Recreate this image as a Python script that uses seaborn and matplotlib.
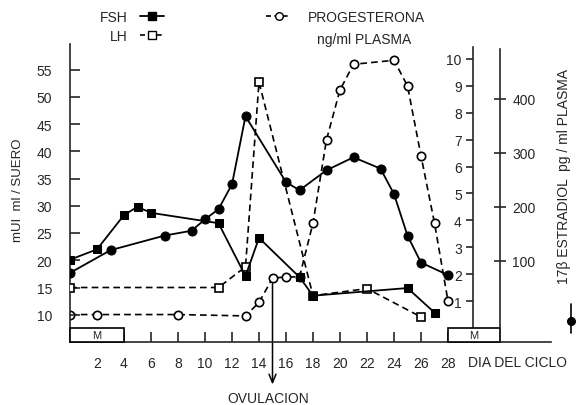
import matplotlib
matplotlib.use('Agg')
import matplotlib.pyplot as plt
import seaborn as sns
from matplotlib.lines import Line2D
from matplotlib.patches import Rectangle

# Datos (dia del ciclo)
# FSH  (mUI/ml suero)
fsh_dia = [0, 2, 4, 5, 6, 11, 13, 14, 17, 18, 25, 27]
fsh_val = [20.1, 22.0, 28.3, 29.8, 28.7, 26.8, 17.1, 24.1, 16.9, 13.5, 14.9, 10.4]

# LH  (mUI/ml suero)
lh_dia = [0, 11, 13, 14, 18, 22, 26]
lh_val = [15.0, 15.0, 18.8, 52.7, 13.5, 14.8, 9.6]

# Progesterona (ng/ml plasma)
prog_dia = [0, 2, 8, 13, 14, 15, 16, 17, 18, 19, 20, 21, 24, 25, 26, 27, 28]
prog_val = [0.5, 0.5, 0.5, 0.45, 0.95, 1.85, 1.9, 1.9, 3.9, 7.0, 8.85, 9.8, 9.95, 9.0, 6.4, 3.9, 1.0]

# 17-beta estradiol (pg/ml plasma)
e2_dia = [0, 3, 7, 9, 10, 11, 12, 13, 16, 17, 19, 21, 23, 24, 25, 26, 28]
e2_val = [78, 120, 147, 156, 177, 196, 242, 368, 246, 231, 268, 292, 271, 224, 147, 97, 74]

dia_ticks = list(range(2, 29, 2))
mui_ticks = list(range(10, 56, 5))
prog_ticks = list(range(1, 11))
e2_ticks = [100, 200, 300, 400]
menstruacion = [(0, 4), (28, 31.85)]
dia_ovulacion = 15

sns.set_style('ticks')
plt.rcParams['font.family'] = ['Liberation Sans', 'DejaVu Sans']
plt.rcParams['axes.linewidth'] = 1.2

fig = plt.figure(figsize=(5.76, 4.06), dpi=100)
ax = fig.add_axes([70 / 576, 63 / 406, 481 / 576, 299.75 / 406])
ax_p = ax.twinx()
ax_e = ax.twinx()
ax_p.set_zorder(ax.get_zorder() - 1)
ax.patch.set_visible(False)

# eje principal: mUI/ml
ax.set_xlim(0, 481 / 13.5)
ax.set_ylim(5, 60)
ax.spines['top'].set_visible(False)
ax.spines['right'].set_visible(False)
ax.spines['left'].set_bounds(5, 59.7)
ax.set_xticks(dia_ticks)
ax.set_yticks(mui_ticks)
ax.tick_params(axis='both', direction='in', length=7, width=1.2, labelsize=10)
ax.tick_params(axis='x', pad=10)
ax.tick_params(axis='y', pad=13)

# eje progesterona
for s in ['top', 'right', 'bottom']:
    ax_p.spines[s].set_visible(False)
ax_p.spines['left'].set_visible(True)
ax_p.spines['left'].set_position(('data', 29.85))
ax_p.spines['left'].set_bounds(0, 10.45)
ax_p.yaxis.set_ticks_position('left')
ax_p.set_ylim(-0.52, 10.62)
ax_p.set_yticks(prog_ticks)
ax_p.tick_params(axis='y', direction='out', length=5, width=1.2, pad=3, labelsize=10)

# eje estradiol
for s in ['top', 'left', 'bottom']:
    ax_e.spines[s].set_visible(False)
ax_e.spines['right'].set_position(('data', 31.85))
ax_e.spines['right'].set_bounds(-50, 492)
ax_e.set_ylim(-50, 505)
ax_e.set_yticks(e2_ticks)
ax_e.tick_params(axis='y', direction='inout', length=8, width=1.2, pad=5, labelsize=10)

# series
sns.lineplot(x=fsh_dia, y=fsh_val, ax=ax, color='black', lw=1.3, marker='s', markersize=6,
             markerfacecolor='black', markeredgecolor='black', zorder=4)
sns.lineplot(x=lh_dia, y=lh_val, ax=ax, color='black', lw=1.2, linestyle=(0, (4, 2.5)), marker='s',
             markersize=6, markerfacecolor='white', markeredgecolor='black', markeredgewidth=1.2, zorder=3)
sns.lineplot(x=prog_dia, y=prog_val, ax=ax_p, color='black', lw=1.2, linestyle=(0, (4, 2.5)), marker='o',
             markersize=6, markerfacecolor='white', markeredgecolor='black', markeredgewidth=1.2)
sns.lineplot(x=e2_dia, y=e2_val, ax=ax_e, color='black', lw=1.3, marker='o', markersize=6.5,
             markerfacecolor='black', markeredgecolor='black')

# menstruacion
for ini, fin in menstruacion:
    ax.add_patch(Rectangle((ini, 5), fin - ini, 2.6, facecolor='white', edgecolor='black',
                           lw=1.2, zorder=5, clip_on=False))
    ax.text((ini + fin) / 2, 6.3, 'M', ha='center', va='center', fontsize=8, zorder=6)

# ovulacion
i_ov = prog_dia.index(dia_ovulacion)
ax_p.annotate('', xy=(dia_ovulacion, -2.1), xytext=(dia_ovulacion, prog_val[i_ov]),
              arrowprops=dict(arrowstyle='->,head_length=0.6,head_width=0.25', color='black', lw=1.1,
                              shrinkA=4, shrinkB=0), annotation_clip=False)
fig.text(268 / 576, 1 - 399 / 406, 'OVULACION', ha='center', va='center', fontsize=10)
fig.text(517 / 576, 1 - 363 / 406, 'DIA DEL CICLO', ha='center', va='center', fontsize=10)

# textos de ejes
fig.text(18 / 576, 1 - 190 / 406, 'mUI  ml / SUERO', rotation=90, ha='center', va='center', fontsize=9.5)
fig.text(564 / 576, 1 - 176 / 406, '17β ESTRADIOL  pg / ml PLASMA', rotation=90, ha='center',
         va='center', fontsize=10)
fig.add_artist(Line2D([571 / 576] * 3, [1 - 305 / 406, 1 - 322 / 406, 1 - 334 / 406],
                      transform=fig.transFigure, color='black', lw=1.2, marker='o', markevery=[1],
                      markersize=5.5))

# leyendas
h_fsh = Line2D([], [], color='black', lw=1.3, marker='s', markersize=5.5)
h_lh = Line2D([], [], color='black', lw=1.2, linestyle=(0, (3, 2)), marker='s', markersize=5.5,
              markerfacecolor='white')
h_prog = Line2D([], [], color='black', lw=1.2, linestyle=(0, (3, 2)), marker='o', markersize=5.5,
                markerfacecolor='white')
fig.legend(handles=[h_fsh, h_lh], labels=['FSH', 'LH'], loc='upper left',
           bbox_to_anchor=(100 / 576, 1 - 11 / 406), frameon=False, markerfirst=False,
           handlelength=1.7, handletextpad=0.9, labelspacing=0.35, borderpad=0, borderaxespad=0,
           fontsize=10)
fig.legend(handles=[h_prog], labels=['PROGESTERONA'], loc='upper left',
           bbox_to_anchor=(266 / 576, 1 - 11 / 406), frameon=False, handlelength=1.8,
           handletextpad=1.2, borderpad=0, borderaxespad=0, fontsize=10)
fig.text(317 / 576, 1 - 40 / 406, 'ng/ml PLASMA', ha='left', va='center', fontsize=10)

fig.savefig('out.png', dpi=100, facecolor='white')
